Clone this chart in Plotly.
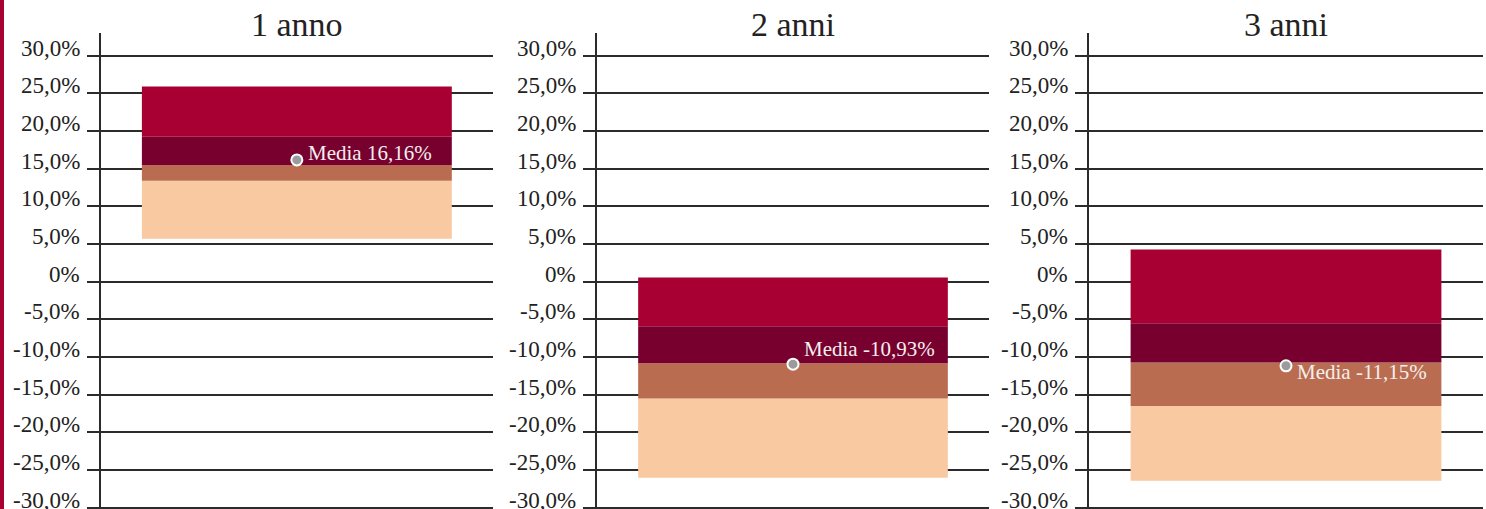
import plotly.graph_objects as go

# ---- data (values in %) ----
periods = ["1 anno", "2 anni", "3 anni"]
band_min = [5.7, -26.0, -26.4]
band_q1 = [13.4, -15.5, -16.5]
band_med = [15.5, -10.8, -10.7]
band_q3 = [19.25, -5.9, -5.5]
band_max = [25.9, 0.57, 4.27]
media = [16.16, -10.93, -11.15]
media_labels = ["Media 16,16%", "Media -10,93%", "Media -11,15%"]
tick_vals = [30, 25, 20, 15, 10, 5, 0, -5, -10, -15, -20, -25, -30]
tick_text = ["30,0%", "25,0%", "20,0%", "15,0%", "10,0%", "5,0%", "0%",
             "-5,0%", "-10,0%", "-15,0%", "-20,0%", "-25,0%", "-30,0%"]

# ---- style ----
W, H = 1486, 509
FONT = "Liberation Serif"
C_PEACH = "#F9C9A1"
C_BROWN = "#BA6C51"
C_DARK = "#78002E"
C_RED = "#A80032"
GRID = "#2B2B2B"
domains_px = [(100.7, 493.0), (597.0, 989.0), (1089.3, 1482.7)]
label_yshift = [7, 15, -6]

fig = go.Figure()
layout = dict(
    width=W, height=H,
    margin=dict(l=0, r=0, t=33, b=0, autoexpand=False),
    paper_bgcolor="white", plot_bgcolor="white",
    showlegend=False, barmode="overlay",
    font=dict(family=FONT, color="#222222"),
    template="none",
)
annotations = []
for i, p in enumerate(periods):
    xa = "x" if i == 0 else f"x{i+1}"
    ya = "y" if i == 0 else f"y{i+1}"
    segs = [
        (band_min[i], band_q1[i], C_PEACH),
        (band_q1[i], band_med[i], C_BROWN),
        (band_med[i], band_q3[i], C_DARK),
        (band_q3[i], band_max[i], C_RED),
    ]
    for lo, hi, col in segs:
        fig.add_trace(go.Bar(
            x=[0], y=[hi - lo], base=[lo], width=0.79,
            marker=dict(color=col, line=dict(width=0)),
            xaxis=xa, yaxis=ya, hoverinfo="skip",
        ))
    fig.add_trace(go.Scatter(
        x=[0], y=[media[i]], mode="markers",
        marker=dict(size=11, color="#9B9B9B", line=dict(color="white", width=2)),
        xaxis=xa, yaxis=ya, hoverinfo="skip",
    ))
    annotations.append(dict(
        x=0, y=media[i], xref=xa, yref=ya, text=media_labels[i],
        showarrow=False, xanchor="left", yanchor="middle",
        xshift=9, yshift=label_yshift[i],
        font=dict(family=FONT, size=21, color="#F4F0EE"),
    ))
    d0, d1 = domains_px[i]
    annotations.append(dict(
        x=(d0 + d1) / 2 / W, y=1.0, xref="paper", yref="paper",
        text=p, showarrow=False, xanchor="center", yanchor="middle",
        yshift=9,
        font=dict(family=FONT, size=34, color="#222222"),
    ))
    # y tick labels sitting just above their gridlines (as in the reference)
    for tv, tt in zip(tick_vals, tick_text):
        annotations.append(dict(
            x=d0 / W, y=tv, xref="paper", yref=ya, text=tt,
            showarrow=False, xanchor="right", yanchor="middle",
            xshift=-19, yshift=7.5,
            font=dict(family=FONT, size=23, color="#222222"),
        ))
    layout["xaxis" if i == 0 else f"xaxis{i+1}"] = dict(
        domain=[d0 / W, d1 / W], range=[-0.5, 0.5],
        showgrid=False, zeroline=False, showline=False,
        showticklabels=False, ticks="", fixedrange=True, automargin=False,
        anchor=ya,
    )
    layout["yaxis" if i == 0 else f"yaxis{i+1}"] = dict(
        domain=[0, 1], range=[-30.15, 33.0], anchor=xa,
        tickvals=tick_vals, ticktext=tick_text, showticklabels=False,
        showgrid=True, gridcolor=GRID, gridwidth=1.8,
        zeroline=False, showline=True, linecolor=GRID, linewidth=2,
        ticks="outside", ticklen=12, tickwidth=1.8, tickcolor=GRID,
        automargin=False, fixedrange=True,
    )

layout["annotations"] = annotations
layout["shapes"] = [dict(
    type="rect", xref="paper", yref="paper",
    x0=0, x1=4 / W, y0=-0.1, y1=1.2,
    fillcolor=C_RED, line=dict(width=0), layer="above",
)]
fig.update_layout(**layout)
fig.write_html(
    "out.html",
    config={"displayModeBar": False},
    post_script="document.body.style.margin='0';document.body.style.overflow='hidden';",
)
